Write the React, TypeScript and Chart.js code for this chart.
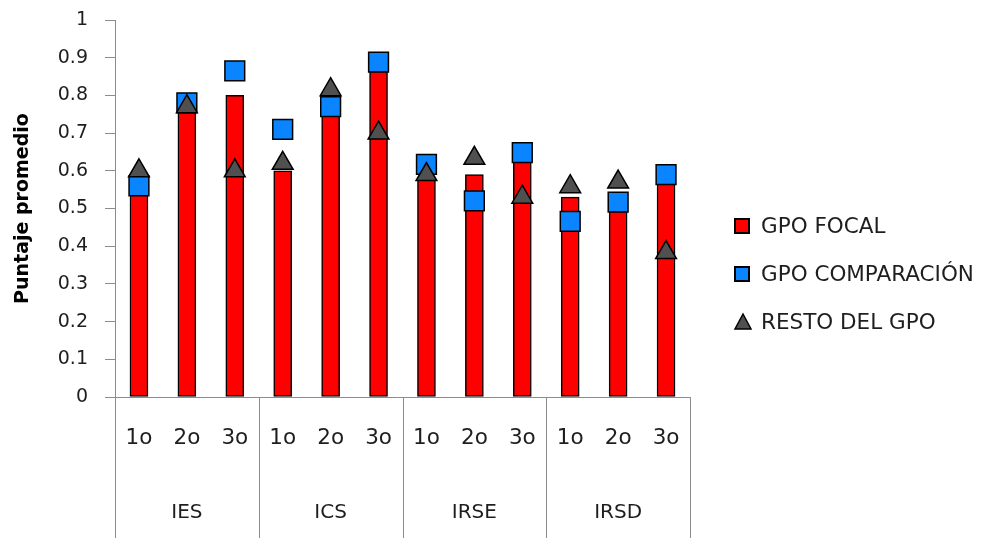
import React, { useEffect, useRef } from 'react';
import { Chart, registerables } from 'chart.js';

Chart.register(...registerables);

const categories = ['1o', '2o', '3o', '1o', '2o', '3o', '1o', '2o', '3o', '1o', '2o', '3o'];
const groups = ['IES', 'ICS', 'IRSE', 'IRSD'];
const yTickLabels = ['0', '0.1', '0.2', '0.3', '0.4', '0.5', '0.6', '0.7', '0.8', '0.9', '1'];

const gpoFocal = [0.56, 0.77, 0.80, 0.60, 0.78, 0.87, 0.58, 0.59, 0.64, 0.53, 0.52, 0.58];
const gpoComparacion = [0.56, 0.78, 0.865, 0.71, 0.77, 0.888, 0.617, 0.52, 0.648, 0.466, 0.517, 0.59];
const restoDelGpo = [0.60, 0.77, 0.60, 0.62, 0.815, 0.70, 0.59, 0.633, 0.53, 0.558, 0.57, 0.383];

const seriesNames = ['GPO FOCAL', 'GPO COMPARACIÓN', 'RESTO DEL GPO'];

const RED = '#FF0000';
const BLUE = '#0A84FF';
const GREY = '#505050';
const AXIS = '#8C8C8C';
const TEXT = '#1E1E1E';
const FONT = "'DejaVu Sans', sans-serif";

export default function App() {
  const ref = useRef<HTMLCanvasElement | null>(null);

  useEffect(() => {
    document.body.style.margin = '0';
    const canvas = ref.current;
    if (!canvas) return;

    const decor = {
      id: 'excelDecor',
      afterDraw(chart: any) {
        const { ctx, chartArea: a, scales } = chart;
        const x = scales.x;
        const step = x.getPixelForValue(1) - x.getPixelForValue(0);
        const H = chart.height;
        ctx.save();
        ctx.strokeStyle = AXIS;
        ctx.lineWidth = 1;
        ctx.beginPath();
        ctx.moveTo(a.left - 10, Math.round(a.bottom) + 0.5);
        ctx.lineTo(a.right, Math.round(a.bottom) + 0.5);
        ctx.stroke();
        for (let g = 0; g <= groups.length; g++) {
          const px = Math.round(x.getPixelForValue(g * 3) - step / 2) + 0.5;
          ctx.beginPath();
          ctx.moveTo(px, a.bottom);
          ctx.lineTo(px, H);
          ctx.stroke();
        }
        ctx.fillStyle = TEXT;
        ctx.textAlign = 'center';
        ctx.textBaseline = 'middle';
        ctx.font = `21.5px ${FONT}`;
        categories.forEach((c, i) => {
          ctx.fillText(c, x.getPixelForValue(i), a.bottom + 41);
        });
        ctx.font = `20px ${FONT}`;
        groups.forEach((g, i) => {
          const cx = (x.getPixelForValue(i * 3) + x.getPixelForValue(i * 3 + 2)) / 2;
          ctx.fillText(g, cx, a.bottom + 116);
        });
        const lx = a.right + 45;
        const ly = [226, 274, 322];
        ctx.textAlign = 'left';
        ctx.font = `21.5px ${FONT}`;
        ctx.lineWidth = 2;
        ctx.strokeStyle = '#000';
        ctx.fillStyle = RED;
        ctx.fillRect(lx, ly[0] - 7, 14, 14);
        ctx.strokeRect(lx, ly[0] - 7, 14, 14);
        ctx.fillStyle = BLUE;
        ctx.fillRect(lx, ly[1] - 7, 14, 14);
        ctx.strokeRect(lx, ly[1] - 7, 14, 14);
        ctx.fillStyle = GREY;
        ctx.beginPath();
        ctx.moveTo(lx + 8, ly[2] - 8);
        ctx.lineTo(lx + 16, ly[2] + 7);
        ctx.lineTo(lx, ly[2] + 7);
        ctx.closePath();
        ctx.fill();
        ctx.lineWidth = 1.5;
        ctx.stroke();
        ctx.fillStyle = TEXT;
        seriesNames.forEach((n, i) => {
          ctx.fillText(n, lx + 26, ly[i] + 1);
        });
        ctx.restore();
      },
    };

    const chart = new Chart(canvas, {
      type: 'bar',
      data: {
        labels: categories,
        datasets: [
          {
            type: 'line',
            label: seriesNames[2],
            data: restoDelGpo,
            showLine: false,
            pointStyle: 'triangle',
            pointRadius: 12,
            pointBackgroundColor: GREY,
            pointBorderColor: '#000',
            pointBorderWidth: 1.5,
            order: 1,
          } as any,
          {
            type: 'line',
            label: seriesNames[1],
            data: gpoComparacion,
            showLine: false,
            pointStyle: 'rect',
            pointRadius: 14,
            pointBackgroundColor: BLUE,
            pointBorderColor: '#000',
            pointBorderWidth: 1.5,
            order: 2,
          } as any,
          {
            type: 'bar',
            label: seriesNames[0],
            data: gpoFocal,
            backgroundColor: RED,
            borderColor: '#000',
            borderWidth: 1.5,
            borderSkipped: false,
            barThickness: 18,
            order: 3,
          } as any,
        ],
      },
      options: {
        animation: false,
        responsive: true,
        maintainAspectRatio: false,
        events: [],
        layout: { padding: { top: 20, bottom: 141, left: 0, right: 292 } },
        plugins: { legend: { display: false }, tooltip: { enabled: false } },
        scales: {
          x: {
            display: false,
            offset: true,
          },
          y: {
            min: 0,
            max: 1,
            ticks: {
              stepSize: 0.1,
              padding: 17,
              color: TEXT,
              font: { family: FONT, size: 19 },
              callback: (_v: any, i: number) => yTickLabels[i],
            },
            grid: {
              drawOnChartArea: false,
              drawTicks: true,
              tickLength: 10,
              color: AXIS,
              lineWidth: 1,
            },
            border: { display: true, color: AXIS, width: 1 },
            title: {
              display: true,
              text: 'Puntaje promedio',
              color: '#000',
              font: { family: FONT, size: 19, weight: 'bold' },
              padding: { top: 12, bottom: 0 },
            },
            afterFit: (s: any) => {
              s.width = 115;
              s.paddingTop = 12;
              s.paddingBottom = 12;
            },
          },
        },
      } as any,
      plugins: [decor],
    });

    return () => chart.destroy();
  }, []);

  return (
    <div style={{ position: 'absolute', left: 0, top: 0, width: 982, height: 538 }}>
      <canvas ref={ref} />
    </div>
  );
}
